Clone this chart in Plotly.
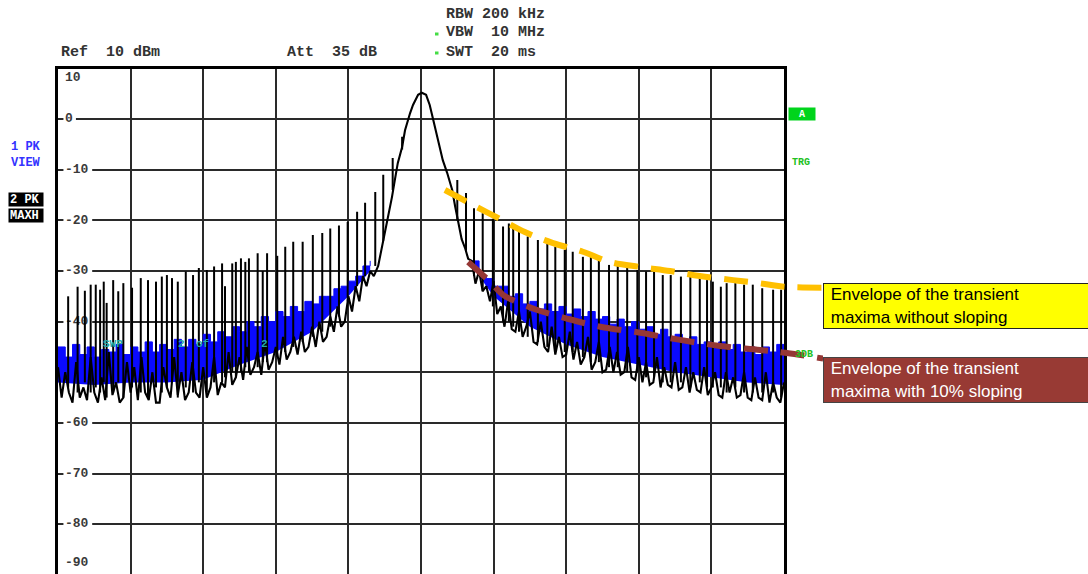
import plotly.graph_objects as go

W, H = 1088, 574
PX_L, PX_R, PX_T = 58, 784, 68.5          # plot frame in page pixels
PX_ENV_R = 823                             # envelope lines run up to the text boxes
Y_LO, Y_HI = -89.85, 10.0

# ---------------- data (x in screen divisions 0..10, level in dBm) ----------------
ytick_vals = [10, 0, -10, -20, -30, -40, -50, -60, -70, -80, -90]
ytick_text = ["10", "0", "-10", "-20", "-30", "-40", "-50", "-60", "-70", "-80", "-90"]

# trace 2 (MAXH, black) – noise part left of the carrier, one value every 0.05 div from 0.00
left_black = [-49, -55, -50, -54, -56, -48, -55, -53, -55.5, -47,
              -54, -56, -51, -55.5, -46, -54.5, -52, -56, -55, -48,
              -54, -49, -55.5, -47, -54, -55.5, -50, -56, -56, -49,
              -53, -55, -47, -54.5, -50, -55.5, -54, -48, -54, -55,
              -49, -55, -53, -47, -54.5, -52, -53, -46, -52.5, -51,
              -47, -51.5, -45, -50.5, -49, -46, -50.5, -44, -49.5, -48,
              -45, -48.5, -43, -47.5, -46, -43, -46.5, -42, -46, -45,
              -41, -45, -40, -44, -43, -39, -42, -37, -41, -40,
              -35, -38, -33, -36, -31, -33, -30]
# carrier peak (shared by both traces)
peak_d = [4.35, 4.41, 4.46, 4.50, 4.55, 4.60, 4.64, 4.68, 4.74, 4.78, 4.85, 4.89, 4.96,
          5.01, 5.07, 5.12, 5.17, 5.23, 5.30, 5.36, 5.43, 5.47, 5.51, 5.56, 5.61, 5.65]
peak_db = [-31, -29, -25.5, -22, -18.5, -15.4, -12, -8.7, -5.5, -2.2, 1.2, 2.8, 4.8,
           5.2, 4.8, 2.8, -0.2, -4.1, -8.1, -10.6, -14, -17.2, -20.3, -23.7, -25.6, -27.6]
# noise part right of the carrier, one value every 0.05 div from 5.70
right_black = [-28, -32.5, -30, -34, -33, -36, -32, -38.5, -37, -41,
               -36, -41.5, -42, -38, -43, -41, -38, -44, -44.5, -40,
               -45, -46, -41, -46.5, -43, -47, -46.5, -42, -47.5, -44,
               -48.5, -47, -43, -49.5, -48, -44, -50, -49.5, -45, -50,
               -46, -50.5, -50, -45, -51, -51.5, -47, -52, -48, -52.5,
               -52, -47, -53, -49, -52.5, -53, -48, -53.5, -53, -49,
               -54, -50, -53.5, -54, -49, -54.5, -53, -50, -54.5, -55,
               -50, -54, -51, -55, -54.5, -50, -55, -55.5, -51, -55,
               -55.5, -50, -56, -52, -55, -56, -52]

# trace 1 (VIEW, blue) – upper edge every 0.1 div, lower edge at a few points
left_blue_top = [-45, -47, -44.5, -46.5, -45, -47, -45.5, -46, -44.5, -46.5,
                 -45, -46, -44, -46, -44.5, -45.5, -43.5, -45, -43.5, -44.5,
                 -42.5, -44, -42, -43, -41, -42, -40, -41, -39, -40,
                 -38, -39, -37, -38, -36, -36.5, -35, -35, -33.5, -33,
                 -32, -31, -29, -28]
right_blue_top = [-28, -31, -31.5, -33, -33, -35, -34.5, -36.5, -36, -37.5,
                  -36.5, -38, -37, -38.5, -37.5, -39, -38, -39.5, -39, -40.5,
                  -39.5, -41, -40, -41.5, -41, -42.5, -41.5, -43, -42.5, -44,
                  -43, -44.5, -44, -45, -44, -45.5, -44.5, -46, -45, -46.5,
                  -45, -46, -44.5, -46]
left_blue_bot_d = [0.0, 0.5, 1.0, 1.5, 2.0, 2.5, 3.0, 3.5, 4.0, 4.3]
left_blue_bot = [-52, -52.5, -52, -52, -51.5, -48.5, -46, -42, -35, -30]
right_blue_bot_d = [5.7, 6.0, 6.5, 7.0, 7.5, 8.0, 8.5, 9.0, 9.5, 10.0]
right_blue_bot = [-29, -35, -41, -44.5, -47, -48.5, -50, -51, -52, -52.5]

# transient spikes of the MAXH trace
spike_d = [0.14, 0.27, 0.37, 0.45, 0.52, 0.58, 0.63, 0.67, 0.76, 0.83, 0.90, 1.02, 1.14,
           1.24, 1.35, 1.43, 1.50, 1.57, 1.65, 1.76, 1.86, 1.94, 2.05, 2.15, 2.26, 2.30,
           2.40, 2.45, 2.52, 2.58, 2.63, 2.75, 2.82, 2.88, 3.02, 3.13, 3.24, 3.37, 3.51,
           3.64, 3.75, 3.87, 3.99, 4.12, 4.23, 4.37, 4.48, 4.61, 4.74,
           5.50, 5.62, 5.73, 5.85, 5.99, 6.13, 6.21, 6.27, 6.35, 6.47, 6.61, 6.74, 6.85,
           6.98, 7.09, 7.23, 7.34, 7.45, 7.59, 7.71, 7.84, 7.98, 8.10, 8.21, 8.33, 8.44,
           8.58, 8.71, 8.84, 8.94, 9.02, 9.13, 9.21, 9.33, 9.45, 9.57, 9.70, 9.85, 9.96]
spike_top = [-35.0, -33.1, -33.9, -32.7, -32.7, -33.7, -32.1, -36.3, -31.8, -34.0, -32.4, -33.3, -31.4,
             -31.8, -32.1, -31.1, -30.8, -31.4, -32.1, -30.1, -30.8, -29.4, -29.8, -29.1, -28.5, -33.0,
             -28.5, -28.2, -27.5, -28.2, -27.5, -26.5, -30.0, -26.5, -27.0, -25.2, -24.2, -24.2, -22.9,
             -22.5, -21.6, -21.0, -20.3, -18.3, -16.5, -14.4, -11.0, -7.7, -3.5,
             -12.0, -14.6, -17.6, -18.6, -19.7, -21.2, -20.6, -21.2, -22.2, -23.2, -23.9, -24.5, -25.2,
             -25.8, -26.2, -27.2, -27.2, -27.8, -28.8, -28.8, -28.8, -29.8, -30.1, -30.1, -30.8, -30.8,
             -31.1, -31.1, -31.4, -31.8, -32.1, -33.1, -32.4, -32.4, -32.7, -32.7, -33.4, -33.7, -33.7]
spike_base = [-53, -54, -52, -54, -53, -54, -52, -55, -54, -52, -55, -53, -54,
              -55, -53, -54, -53, -52, -55, -53, -54, -52, -54, -52, -52, -51,
              -50, -51, -50, -49, -50, -49, -48, -48, -47, -46, -45, -44, -43,
              -42, -41, -39, -36, -33, -31, -29, -24, -14, -6,
              -20, -26, -31, -34, -37, -40, -40, -41, -42, -43, -44, -45, -46,
              -46, -46, -47, -48, -48, -49, -49, -50, -50, -51, -51, -52, -52,
              -52, -53, -52, -53, -53, -53, -54, -53, -54, -54, -54, -54, -55]

# envelopes of the transient maxima (drawn on top)
env_flat_d = [5.33, 5.72, 6.06, 6.43, 6.82, 7.23, 7.60, 8.02, 8.43, 8.84, 9.30, 9.71, 10.0, 10.54]
env_flat_db = [-14.0, -17.0, -19.5, -22.3, -24.5, -26.2, -28.2, -29.2, -30.0, -31.0, -31.8, -32.5, -33.1, -33.3]
env_slope_d = [5.65, 5.95, 6.13, 6.32, 6.60, 7.01, 7.47, 8.02, 8.57, 9.12, 9.67, 10.04, 10.54]
env_slope_db = [-28.2, -32.1, -34.7, -36.1, -37.7, -39.4, -41.0, -42.2, -43.6, -44.8, -45.6, -46.2, -47.3]

# ---------------- figure ----------------
left_d = [round(i * 0.05, 2) for i in range(len(left_black))]
right_d = [round(5.70 + i * 0.05, 2) for i in range(len(right_black))]
left_bt_d = [round(i * 0.1, 2) for i in range(len(left_blue_top))]
right_bt_d = [round(5.7 + i * 0.1, 2) for i in range(len(right_blue_top))]

BLUE = "#0a0aff"
fig = go.Figure()

# level labels sit inside the plot, on white patches, under the traces
rect_x0, text_x = 0.075, 0.095
lab_y = []
for v in ytick_vals:
    if v >= Y_HI:
        lab_y.append(v - 1.9)
    elif v <= Y_LO:
        lab_y.append(v + 2.4)
    else:
        lab_y.append(v)
rx, ry = [], []
for v, t in zip(ytick_vals, ytick_text):
    if Y_LO < v < Y_HI:
        x1 = text_x + 0.04 + len(t) * 0.112
        rx += [rect_x0, x1, x1, rect_x0, rect_x0, None]
        ry += [v - 1.3, v - 1.3, v + 1.3, v + 1.3, v - 1.3, None]
fig.add_trace(go.Scatter(x=rx, y=ry, fill="toself", fillcolor="white", mode="lines",
                         line=dict(width=0, color="white"), hoverinfo="skip", showlegend=False))
fig.add_trace(go.Scatter(x=[text_x] * len(ytick_vals), y=lab_y, text=ytick_text,
                         mode="text", textposition="middle right", cliponaxis=False,
                         textfont=dict(family="Liberation Mono", size=13, color="#3a3a3a", weight="bold"),
                         hoverinfo="skip", showlegend=False))

# blue trace (band)
for bd, bv, td, tv in [(left_blue_bot_d, left_blue_bot, left_bt_d, left_blue_top),
                       (right_blue_bot_d, right_blue_bot, right_bt_d, right_blue_top)]:
    fig.add_trace(go.Scatter(x=bd, y=bv, mode="lines", line=dict(width=0, color=BLUE),
                             hoverinfo="skip", showlegend=False))
    fig.add_trace(go.Scatter(x=td, y=tv, mode="lines", line=dict(width=1, color=BLUE, shape="hv"),
                             fill="tonexty", fillcolor=BLUE, hoverinfo="skip", showlegend=False))

# black MAXH trace
fig.add_trace(go.Scatter(x=left_d + peak_d + right_d, y=left_black + peak_db + right_black,
                         mode="lines", line=dict(width=2.1, color="black"),
                         hoverinfo="skip", showlegend=False))
sx, sy = [], []
for d, t, b in zip(spike_d, spike_top, spike_base):
    sx += [d, d, None]
    sy += [b, t, None]
fig.add_trace(go.Scatter(x=sx, y=sy, mode="lines", line=dict(width=2.0, color="black"),
                         hoverinfo="skip", showlegend=False))

# envelopes (own subplot that reaches the text boxes)
fig.add_trace(go.Scatter(x=env_flat_d, y=env_flat_db, xaxis="x2", yaxis="y2", mode="lines",
                         line=dict(width=6, color="#FFC000", dash="24px,13px", shape="spline"),
                         hoverinfo="skip", showlegend=False))
fig.add_trace(go.Scatter(x=env_slope_d, y=env_slope_db, xaxis="x2", yaxis="y2", mode="lines",
                         line=dict(width=6, color="#953735", dash="24px,13px", shape="spline"),
                         hoverinfo="skip", showlegend=False))

ydom = [0, (H - PX_T) / H]
fig.update_layout(
    width=W, height=H, autosize=False,
    margin=dict(l=0, r=0, t=0, b=0, pad=0),
    paper_bgcolor="white", plot_bgcolor="rgba(0,0,0,0)",
    showlegend=False,
    xaxis=dict(domain=[PX_L / W, PX_R / W], range=[0, 10], side="top",
               showticklabels=False, ticks="", showgrid=True, gridcolor="#2a2a2a", gridwidth=1.5,
               dtick=1, tick0=0, zeroline=False, showline=True, linecolor="black", linewidth=2.5,
               fixedrange=True),
    yaxis=dict(domain=ydom, range=[Y_LO, Y_HI], showticklabels=False, ticks="",
               showgrid=True, gridcolor="#2a2a2a", gridwidth=1.5, dtick=10, tick0=0,
               zeroline=False, showline=True, mirror=True, linecolor="black", linewidth=2.5,
               fixedrange=True),
    xaxis2=dict(domain=[PX_L / W, PX_ENV_R / W], range=[0, 10 * (PX_ENV_R - PX_L) / (PX_R - PX_L)],
                anchor="y2", visible=False, showgrid=False, zeroline=False),
    yaxis2=dict(domain=ydom, range=[Y_LO, Y_HI], anchor="x2", visible=False,
                showgrid=False, zeroline=False),
)

def px(x):
    return x / W

def py(y):
    return 1 - y / H

MONO = "Liberation Mono"
hdr = dict(family=MONO, size=15, color="#333333", weight="bold")
ann = []
for txt, x, y in [("RBW 200 kHz", 444, 14), ("VBW  10 MHz", 444, 33), ("SWT  20 ms", 444, 52),
                  ("Ref  10 dBm", 59, 52), ("Att  35 dB", 285, 52)]:
    ann.append(dict(text=txt, x=px(x), y=py(y), xref="paper", yref="paper", xanchor="left",
                    yanchor="middle", showarrow=False, font=hdr))
side = dict(family=MONO, size=12, weight="bold")
ann += [
    dict(text="1 PK", x=px(9), y=py(147), font=dict(side, color="#3333ff")),
    dict(text="VIEW", x=px(9), y=py(163), font=dict(side, color="#3333ff")),
    dict(text="2 PK", x=px(8), y=py(199.5), font=dict(side, color="white"), bgcolor="black",
         width=32, height=11, borderpad=1, align="left"),
    dict(text="MAXH", x=px(8), y=py(215.5), font=dict(side, color="white"), bgcolor="black",
         width=32, height=11, borderpad=1, align="left"),
    dict(text="A", x=px(788), y=py(114), font=dict(family=MONO, size=10, color="white", weight="bold"),
         bgcolor="#00d41c", width=24, height=10, borderpad=1),
    dict(text="TRG", x=px(790), y=py(162), font=dict(family=MONO, size=10, color="#22c022", weight="bold")),
    dict(text="3DB", x=px(793), y=py(354), font=dict(family=MONO, size=10, color="#22c022", weight="bold")),
    dict(text="SWP", x=px(101), y=py(344), font=dict(family=MONO, size=11, color="#22a8a8", weight="bold")),
    dict(text="2", x=px(176), y=py(344), font=dict(family=MONO, size=11, color="#22a8a8", weight="bold")),
    dict(text="of", x=px(194), y=py(344), font=dict(family=MONO, size=11, color="#22a8a8", weight="bold")),
    dict(text="2", x=px(259), y=py(344), font=dict(family=MONO, size=11, color="#22a8a8", weight="bold")),
]
for a in ann[5:]:
    a.update(xref="paper", yref="paper", xanchor="left", yanchor="middle", showarrow=False)

box_font = dict(family="Liberation Sans", size=17)
ann += [
    dict(text="\u00a0Envelope of the transient<br>\u00a0maxima without sloping",
         x=px(823), y=py(306), xref="paper", yref="paper", xanchor="left", yanchor="middle",
         showarrow=False, align="left", width=266, height=40, borderpad=2, borderwidth=1,
         bordercolor="#222222", bgcolor="#FFFF00", font=dict(box_font, color="black")),
    dict(text="\u00a0Envelope of the transient<br>\u00a0maxima with 10% sloping",
         x=px(823), y=py(380), xref="paper", yref="paper", xanchor="left", yanchor="middle",
         showarrow=False, align="left", width=266, height=40, borderpad=2, borderwidth=1,
         bordercolor="#444444", bgcolor="#983A34", font=dict(box_font, color="white")),
]
fig.update_layout(annotations=ann)

shapes = []
for y in (34, 53):
    shapes.append(dict(type="rect", xref="paper", yref="paper", x0=px(435), x1=px(438.5),
                       y0=py(y + 1.5), y1=py(y - 1.5), fillcolor="#44dd44", line=dict(width=0)))
fig.update_layout(shapes=shapes)

fig.write_html("out.html")
